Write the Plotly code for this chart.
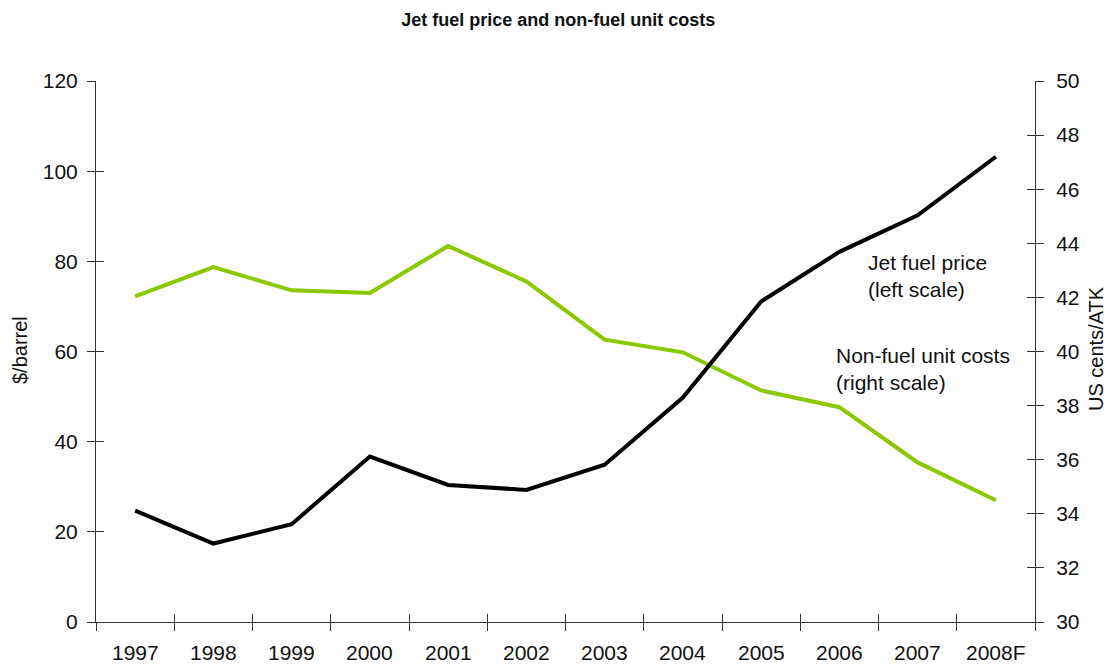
import plotly.graph_objects as go

years = ["1997", "1998", "1999", "2000", "2001", "2002", "2003", "2004", "2005", "2006", "2007", "2008F"]
jet_fuel_price = [24.7, 17.4, 21.7, 36.7, 30.4, 29.3, 34.9, 49.8, 71.1, 82.1, 90.2, 103.2]
non_fuel_unit_costs = [42.04, 43.12, 42.26, 42.16, 43.9, 42.59, 40.44, 39.97, 38.56, 37.94, 35.9, 34.5]

xpos = list(range(len(years)))
boundaries = [i - 0.5 for i in range(len(years) + 1)]

FONT = "Liberation Sans, Arial, sans-serif"
AX = "#333333"
TXT = "#111111"
GREEN = "#8DC700"

W, H = 1110, 664
ML, MR, MT, MB = 96, 75, 81, 42
PW, PH = W - ML - MR, H - MT - MB


def px_to_paper(px, py):
    return (px - ML) / PW, (H - MB - py) / PH


fig = go.Figure()
fig.add_trace(go.Scatter(x=xpos, y=non_fuel_unit_costs, mode="lines", xaxis="x", yaxis="y",
                         line=dict(color=GREEN, width=4), name="Non-fuel unit costs", hoverinfo="y"))
fig.add_trace(go.Scatter(x=xpos, y=jet_fuel_price, mode="lines", xaxis="x", yaxis="y2",
                         line=dict(color="black", width=4), name="Jet fuel price", hoverinfo="y"))
# helper traces so the overlay tick axes are drawn
fig.add_trace(go.Scatter(x=[], y=[], xaxis="x2", yaxis="y3", showlegend=False, hoverinfo="skip"))
fig.add_trace(go.Scatter(x=[], y=[], xaxis="x2", yaxis="y4", showlegend=False, hoverinfo="skip"))

xr = [-0.5, len(years) - 0.5]
common_tick = dict(tickcolor=AX, tickwidth=1, ticklen=8)

fig.update_layout(
    width=W, height=H,
    margin=dict(l=ML, r=MR, t=MT, b=MB),
    paper_bgcolor="white", plot_bgcolor="white",
    showlegend=False,
    font=dict(family=FONT, size=22, color=TXT),
    title=dict(text="<b>Jet fuel price and non-fuel unit costs</b>", x=0.503, xanchor="center",
               y=0.971, yanchor="middle", font=dict(family=FONT, size=18, color=TXT)),
    xaxis=dict(range=xr, tickmode="array", tickvals=boundaries, ticktext=[""] * len(boundaries),
               ticks="outside", showline=True, linecolor=AX, linewidth=1, showgrid=False,
               zeroline=False, fixedrange=True, **common_tick),
    xaxis2=dict(range=xr, overlaying="x", side="bottom", tickmode="array", tickvals=boundaries,
                ticks="inside", showticklabels=False, showline=False, showgrid=False,
                zeroline=False, **common_tick),
    yaxis=dict(range=[30, 50], side="right", tickmode="linear", tick0=30, dtick=2,
               ticks="outside", showline=True, linecolor=AX, linewidth=1, showgrid=False,
               zeroline=False, ticklabelstandoff=8, tickfont=dict(size=21),
               **common_tick),
    yaxis2=dict(range=[0, 120], side="left", overlaying="y", tickmode="linear", tick0=0, dtick=20,
                ticks="outside", showline=True, linecolor=AX, linewidth=1, showgrid=False,
                zeroline=False, ticklabelstandoff=5, tickfont=dict(size=21),
                **common_tick),
    yaxis3=dict(range=[30, 50], side="right", overlaying="y", tickmode="linear", tick0=30, dtick=2,
                ticks="inside", showticklabels=False, showline=False, showgrid=False,
                zeroline=False, **common_tick),
    yaxis4=dict(range=[0, 120], side="left", overlaying="y", tickmode="linear", tick0=0, dtick=20,
                ticks="inside", showticklabels=False, showline=False, showgrid=False,
                zeroline=False, **common_tick),
)

# category labels placed at the category centres through the x axis scale
for xi, lab in zip(xpos, years):
    fig.add_annotation(x=xi, y=0, xref="x", yref="paper", yshift=-17, text=lab, showarrow=False,
                       yanchor="top", xanchor="center", font=dict(family=FONT, size=21, color=TXT))

# axis titles
lx, ly = px_to_paper(20, 350)
fig.add_annotation(x=lx, y=ly, xref="paper", yref="paper", text="$/barrel", textangle=-90,
                   showarrow=False, xanchor="center", yanchor="middle",
                   font=dict(family=FONT, size=20, color=TXT))
rx, ry = px_to_paper(1096, 349)
fig.add_annotation(x=rx, y=ry, xref="paper", yref="paper", text="US cents/ATK", textangle=-90,
                   showarrow=False, xanchor="center", yanchor="middle",
                   font=dict(family=FONT, size=20, color=TXT))

ax1, ay1 = px_to_paper(866, 276)
fig.add_annotation(x=ax1, y=ay1, xref="paper", yref="paper", xanchor="left", yanchor="middle",
                   align="left", showarrow=False, text="Jet fuel price<br>(left scale)",
                   font=dict(family=FONT, size=21, color=TXT))
ax2, ay2 = px_to_paper(834, 369)
fig.add_annotation(x=ax2, y=ay2, xref="paper", yref="paper", xanchor="left", yanchor="middle",
                   align="left", showarrow=False, text="Non-fuel unit costs<br>(right scale)",
                   font=dict(family=FONT, size=21, color=TXT))

fig.write_html("out.html")
